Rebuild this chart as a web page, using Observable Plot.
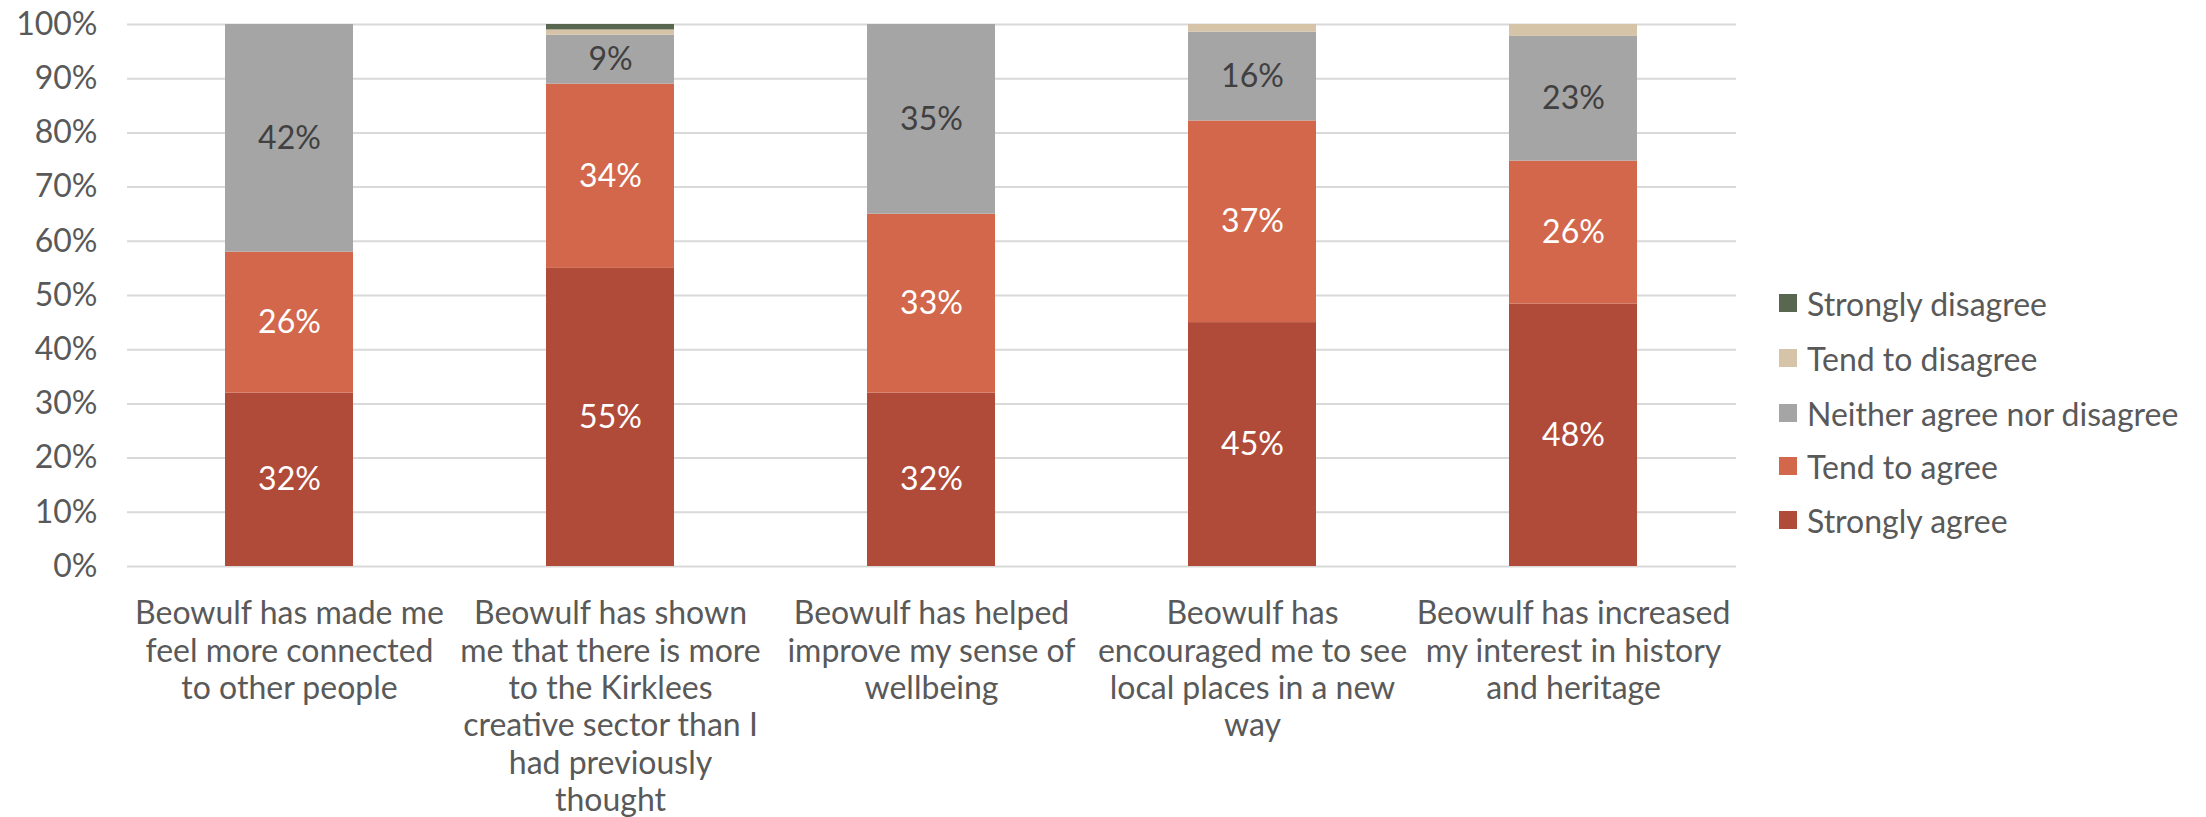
<!DOCTYPE html>
<html>
<head>
<meta charset="utf-8">
<script src="https://cdn.jsdelivr.net/npm/d3@7"></script>
<script src="https://cdn.jsdelivr.net/npm/@observablehq/plot@0.6"></script>
<style>
  html, body { margin: 0; padding: 0; background: #fff; }
  #wrap { position: relative; width: 2206px; height: 817px; font-family: Lato, "Open Sans", sans-serif; }
  #legend { position: absolute; left: 1779px; top: 0; color: #595959; font-size: 32px; }
  .item { position: absolute; left: 0; display: flex; align-items: center; white-space: nowrap; height: 40px; }
  .sw { width: 18px; height: 18px; margin-right: 10px; flex: none; }
</style>
</head>
<body>
<div id="wrap"><div id="chart"></div><div id="legend"></div></div>
<script>
const categories = [
  "Beowulf has made me feel more connected to other people",
  "Beowulf has shown me that there is more to the Kirklees creative sector than I had previously thought",
  "Beowulf has helped improve my sense of wellbeing",
  "Beowulf has encouraged me to see local places in a new way",
  "Beowulf has increased my interest in history and heritage"
];
const tickLabels = [
  "Beowulf has made me\nfeel more connected\nto other people",
  "Beowulf has shown\nme that there is more\nto the Kirklees\ncreative sector than I\nhad previously\nthought",
  "Beowulf has helped\nimprove my sense of\nwellbeing",
  "Beowulf has\nencouraged me to see\nlocal places in a new\nway",
  "Beowulf has increased\nmy interest in history\nand heritage"
];
const responses = ["Strongly agree", "Tend to agree", "Neither agree nor disagree", "Tend to disagree", "Strongly disagree"];
const stronglyAgree    = [32, 55, 32, 45.0, 48.4];
const tendToAgree      = [26, 34, 33, 37.2, 26.4];
const neither          = [42,  9, 35, 16.4, 23.0];
const tendToDisagree   = [ 0,  1,  0,  1.4,  2.2];
const stronglyDisagree = [ 0,  1,  0,  0,    0  ];
const colors = ["#B04B3A", "#D2674B", "#A5A5A5", "#D6C4A8", "#596650"];
const yTicks = [0, 10, 20, 30, 40, 50, 60, 70, 80, 90, 100];

const series = [stronglyAgree, tendToAgree, neither, tendToDisagree, stronglyDisagree];
const data = [];
categories.forEach((c, i) => {
  responses.forEach((r, j) => {
    data.push({category: c, response: r, value: series[j][i]});
  });
});
const labelFor = new Map(categories.map((c, i) => [c, tickLabels[i]]));

const stackOpts = {x: "category", y: "value", z: "response", order: responses};
const NEITHER = "Neither agree nor disagree";

const chart = Plot.plot({
  width: 2206,
  height: 817,
  marginLeft: 127,
  marginRight: 470,
  marginTop: 24,
  marginBottom: 251,
  style: {fontFamily: "Lato, 'Open Sans', sans-serif", fontSize: "32px", color: "#595959", background: "#fff"},
  x: {domain: categories, paddingInner: 0.6, paddingOuter: 0.3, label: null},
  y: {domain: [0, 100], label: null},
  color: {domain: responses, range: colors},
  marks: [
    Plot.gridY(yTicks, {stroke: "#D9D9D9", strokeOpacity: 1, strokeWidth: 2}),
    Plot.barY(data, Plot.stackY({...stackOpts, fill: "response"})),
    Plot.axisY({ticks: yTicks, tickSize: 0, tickPadding: 30, tickFormat: d => d + "%", label: null, fontSize: 32}),
    Plot.axisX({tickSize: 0, tickPadding: 31, tickFormat: d => labelFor.get(d), lineHeight: 1.17, label: null, fontSize: 32}),
    Plot.text(data,
      Plot.stackY({...stackOpts, text: d => (d.value >= 5 && d.response === NEITHER) ? Math.round(d.value) + "%" : null, fill: "#404040", fontSize: 32})),
    Plot.text(data,
      Plot.stackY({...stackOpts, text: d => (d.value >= 5 && d.response !== NEITHER) ? Math.round(d.value) + "%" : null, fill: "white", fontSize: 32}))
  ]
});
document.getElementById("chart").appendChild(chart);

// legend (top to bottom: reverse stacking order)
const legend = document.getElementById("legend");
const rowCenters = [303, 358, 413, 466, 520];
responses.slice().reverse().forEach((r, k) => {
  const idx = responses.indexOf(r);
  const item = document.createElement("div");
  item.className = "item";
  item.style.top = (rowCenters[k] - 20) + "px";
  const sw = document.createElement("span");
  sw.className = "sw";
  sw.style.background = colors[idx];
  const t = document.createElement("span");
  t.textContent = r;
  item.appendChild(sw);
  item.appendChild(t);
  legend.appendChild(item);
});
</script>
</body>
</html>
